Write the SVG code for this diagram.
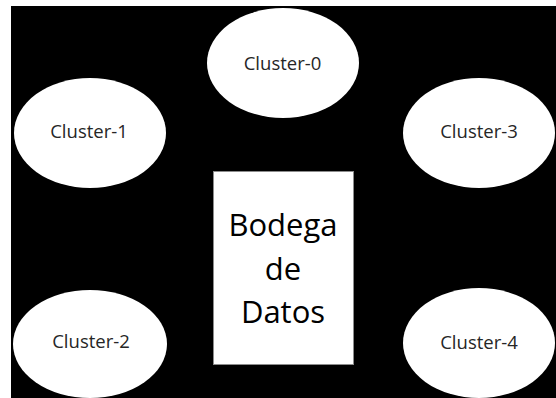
<svg xmlns="http://www.w3.org/2000/svg" width="556" height="398" viewBox="0 0 556 398">
  <style>
    .cluster ellipse { fill: #ffffff; }
    .cluster text { font-family: "Open Sans", "Noto Sans", sans-serif; font-size: 18.5px; fill: #262626; text-anchor: middle; }
    .store rect { fill: #ffffff; stroke: #8c8c8c; stroke-width: 1; }
    .store text { font-family: "Open Sans", "Noto Sans", sans-serif; font-size: 31px; fill: #000000; text-anchor: middle; }
  </style>
  <!-- page and dark canvas -->
  <rect x="0" y="0" width="556" height="398" fill="#ffffff"/>
  <rect x="11" y="6" width="545" height="392" fill="#000000"/>

  <g id="connectors"></g>

  <g id="cluster-0" class="cluster">
    <ellipse cx="283" cy="63" rx="76" ry="55"/>
    <text x="282.5" y="70">Cluster-0</text>
  </g>
  <g id="cluster-1" class="cluster">
    <ellipse cx="90" cy="133" rx="76" ry="55"/>
    <text x="89" y="138">Cluster-1</text>
  </g>
  <g id="cluster-3" class="cluster">
    <ellipse cx="479" cy="133" rx="76" ry="55"/>
    <text x="479" y="138">Cluster-3</text>
  </g>
  <g id="cluster-2" class="cluster">
    <ellipse cx="90" cy="344" rx="77" ry="54"/>
    <text x="91" y="348">Cluster-2</text>
  </g>
  <g id="cluster-4" class="cluster">
    <ellipse cx="479" cy="343" rx="76" ry="55"/>
    <text x="479" y="349">Cluster-4</text>
  </g>

  <g id="bodega" class="store">
    <rect x="213.5" y="171.5" width="140" height="193"/>
    <text x="283" y="236">Bodega</text>
    <text x="283" y="280">de</text>
    <text x="283" y="323">Datos</text>
  </g>
</svg>
